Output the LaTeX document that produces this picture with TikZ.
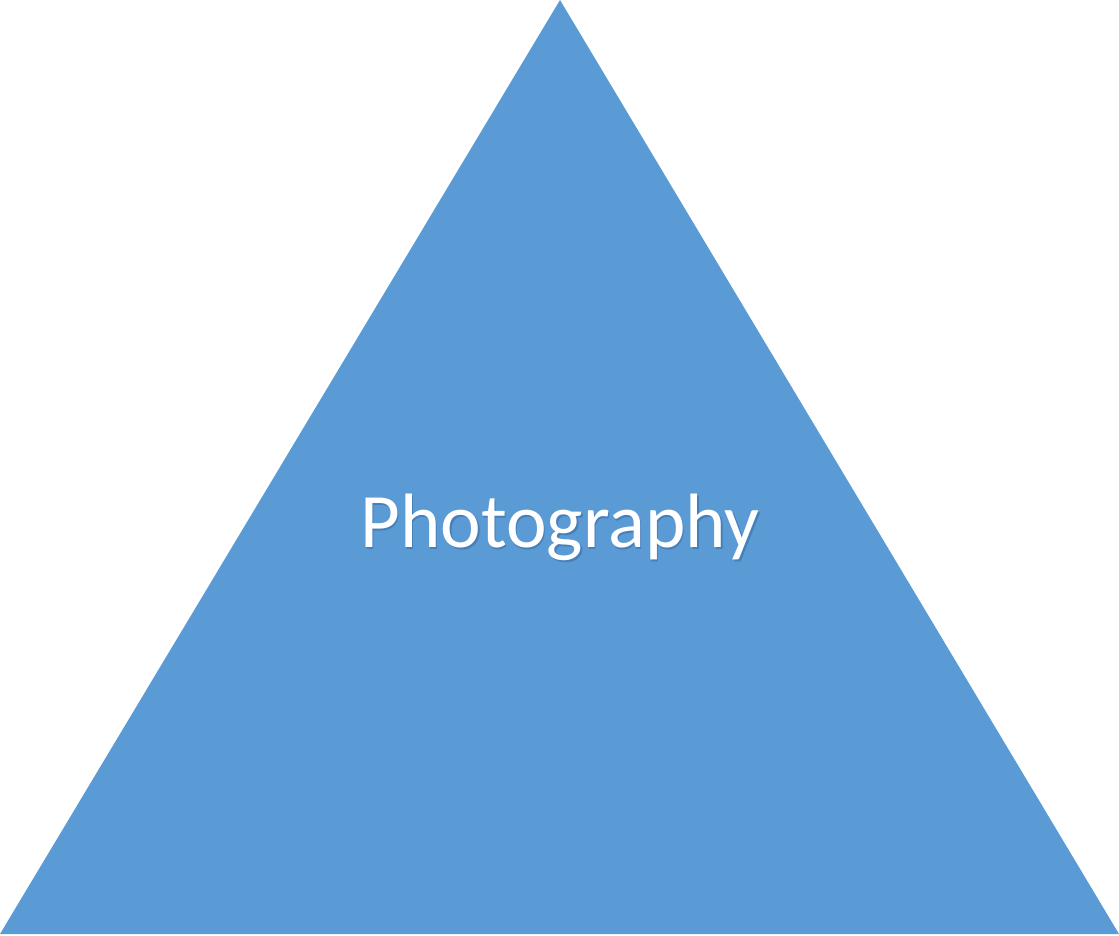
\documentclass[tikz,border=0pt]{standalone}
\usepackage{fontspec}
\setmainfont{Carlito}
\newfontfamily\labelfont{Carlito}
\definecolor{tribg}{HTML}{5B9BD5}
\definecolor{trishade}{HTML}{4680B9}
\newcommand{\shadedtext}[1]{%
  \makebox[0pt][l]{\hspace{1.5pt}\raisebox{-2.5pt}{\textcolor{trishade}{#1}}}#1}
\tikzset{
  label text/.style={font=\labelfont\fontsize{77}{90}\selectfont, anchor=base, inner sep=0pt}
}
\begin{document}
\begin{tikzpicture}[x=1pt, y=-1pt]
    % Rahmen
    \useasboundingbox (0,0) rectangle (1119,936);

    % Dreieck
    \fill[tribg] (560,0) -- (1119,934) -- (0,934) -- cycle;

    % Beschriftung mit Schatten
    \node[label text, text=white] (title) at (560,547) {\shadedtext{Photography}};
\end{tikzpicture}
\end{document}
